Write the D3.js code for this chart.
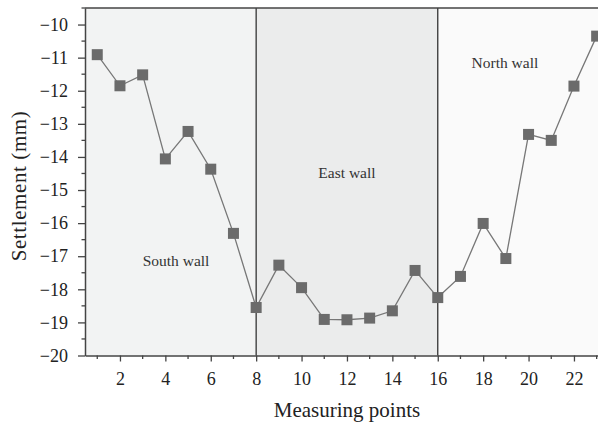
<!DOCTYPE html>
<html>
<head>
<meta charset="utf-8">
<script src="https://cdn.jsdelivr.net/npm/d3@7"></script>
<style>
  html, body { margin: 0; padding: 0; background: #fff; }
  svg { display: block; }
</style>
</head>
<body>
<svg id="chart" width="598" height="425"></svg>
<script>
// Measuring points and settlement readings (mm)
const points = [1,2,3,4,5,6,7,8,9,10,11,12,13,14,15,16,17,18,19,20,21,22,23];
const settlement = [-10.91,-11.85,-11.52,-14.06,-13.23,-14.37,-16.31,-18.55,-17.27,-17.95,-18.91,-18.92,-18.87,-18.65,-17.43,-18.25,-17.61,-16.01,-17.07,-13.32,-13.50,-11.86,-10.35];

// Wall segments along the measuring line
const wallNames = ["South wall", "East wall", "North wall"];
const wallStart = [0.46, 8, 16];
const wallEnd = [8, 16, 23.5];
const wallLabelX = [4.47, 12.0, 18.96];
const wallLabelY = [-17.3, -14.64, -11.31];
const wallFill = ["#f2f3f3", "#ebecec", "#fafafa"];

const xMajorTicks = [2,4,6,8,10,12,14,16,18,20,22];
const yMajorTicks = [-20,-19,-18,-17,-16,-15,-14,-13,-12,-11,-10];

const SERIF = '"Liberation Serif", "Times New Roman", serif';

const svg = d3.select("#chart");
const plotLeft = 85, plotTop = 8, plotBottom = 355.5;
const x = d3.scaleLinear().domain([0.46, 23.5]).range([plotLeft, plotLeft + (23.5 - 0.46) * 22.7]);
const y = d3.scaleLinear().domain([-20, -9.5]).range([plotBottom, plotTop]);

// Shaded wall regions
svg.selectAll("rect.wall").data(wallNames).join("rect")
  .attr("class", "wall")
  .attr("x", (d, i) => x(wallStart[i]))
  .attr("width", (d, i) => x(wallEnd[i]) - x(wallStart[i]))
  .attr("y", plotTop).attr("height", plotBottom - plotTop)
  .attr("fill", (d, i) => wallFill[i]);

// Boundaries between walls
svg.selectAll("line.div").data([8, 16]).join("line")
  .attr("class", "div")
  .attr("x1", d => x(d)).attr("x2", d => x(d))
  .attr("y1", plotTop).attr("y2", plotBottom)
  .attr("stroke", "#333").attr("stroke-width", 1.3);

// Wall labels
svg.selectAll("text.wl").data(wallNames).join("text")
  .attr("class", "wl")
  .attr("x", (d, i) => x(wallLabelX[i]))
  .attr("y", (d, i) => y(wallLabelY[i]))
  .attr("text-anchor", "middle")
  .style("font-family", SERIF)
  .style("font-size", "15.5px")
  .style("fill", "#333")
  .text(d => d);

// Top frame
svg.append("line")
  .attr("x1", plotLeft).attr("x2", 598).attr("y1", plotTop).attr("y2", plotTop)
  .attr("stroke", "#444").attr("stroke-width", 1.5);

// X axis
const xAxis = svg.append("g").attr("transform", `translate(0,${plotBottom})`);
xAxis.call(d3.axisBottom(x).tickValues(xMajorTicks).tickSize(6).tickSizeOuter(0).tickPadding(11)
  .tickFormat(d3.format("d")));
xAxis.append("g").selectAll("line").data(points.filter(p => p % 2 === 1)).join("line")
  .attr("x1", d => x(d)).attr("x2", d => x(d)).attr("y1", 0).attr("y2", 3.5)
  .attr("stroke", "#444").attr("stroke-width", 1.3);

// Y axis
const yAxis = svg.append("g").attr("transform", `translate(${plotLeft},0)`);
yAxis.call(d3.axisLeft(y).tickValues(yMajorTicks).tickSize(7).tickSizeOuter(0).tickPadding(10)
  .tickFormat(d => "\u2212" + Math.abs(d)));
yAxis.append("g").selectAll("line").data(d3.range(-19.5, -9, 1)).join("line")
  .attr("x1", 0).attr("x2", -3.5).attr("y1", d => y(d)).attr("y2", d => y(d))
  .attr("stroke", "#444").attr("stroke-width", 1.3);

[xAxis, yAxis].forEach(g => {
  g.attr("font-family", SERIF).attr("font-size", 18);
  g.select(".domain").attr("stroke", "#444").attr("stroke-width", 1.5);
  g.selectAll(".tick line").attr("stroke", "#444").attr("stroke-width", 1.3);
  g.selectAll(".tick text")
    .style("font-family", SERIF).style("font-size", "18px").style("fill", "#222");
});

// Axis titles
svg.append("text")
  .attr("x", 347).attr("y", 417)
  .attr("text-anchor", "middle")
  .style("font-family", SERIF).style("font-size", "21px").style("fill", "#222")
  .text("Measuring points");
svg.append("text")
  .attr("transform", "translate(26,186) rotate(-90)")
  .attr("text-anchor", "middle")
  .style("font-family", SERIF).style("font-size", "21px").style("fill", "#222")
  .style("letter-spacing", "0.6px")
  .text("Settlement (mm)");

// Data line and markers
const line = d3.line().x((d, i) => x(points[i])).y(d => y(d));
svg.append("path")
  .datum(settlement)
  .attr("d", line)
  .attr("fill", "none").attr("stroke", "#777").attr("stroke-width", 1.3);

const m = 11;
svg.selectAll("rect.mk").data(settlement).join("rect")
  .attr("class", "mk")
  .attr("x", (d, i) => x(points[i]) - m / 2)
  .attr("y", d => y(d) - m / 2)
  .attr("width", m).attr("height", m)
  .attr("fill", "#6b6b6b");
</script>
</body>
</html>
